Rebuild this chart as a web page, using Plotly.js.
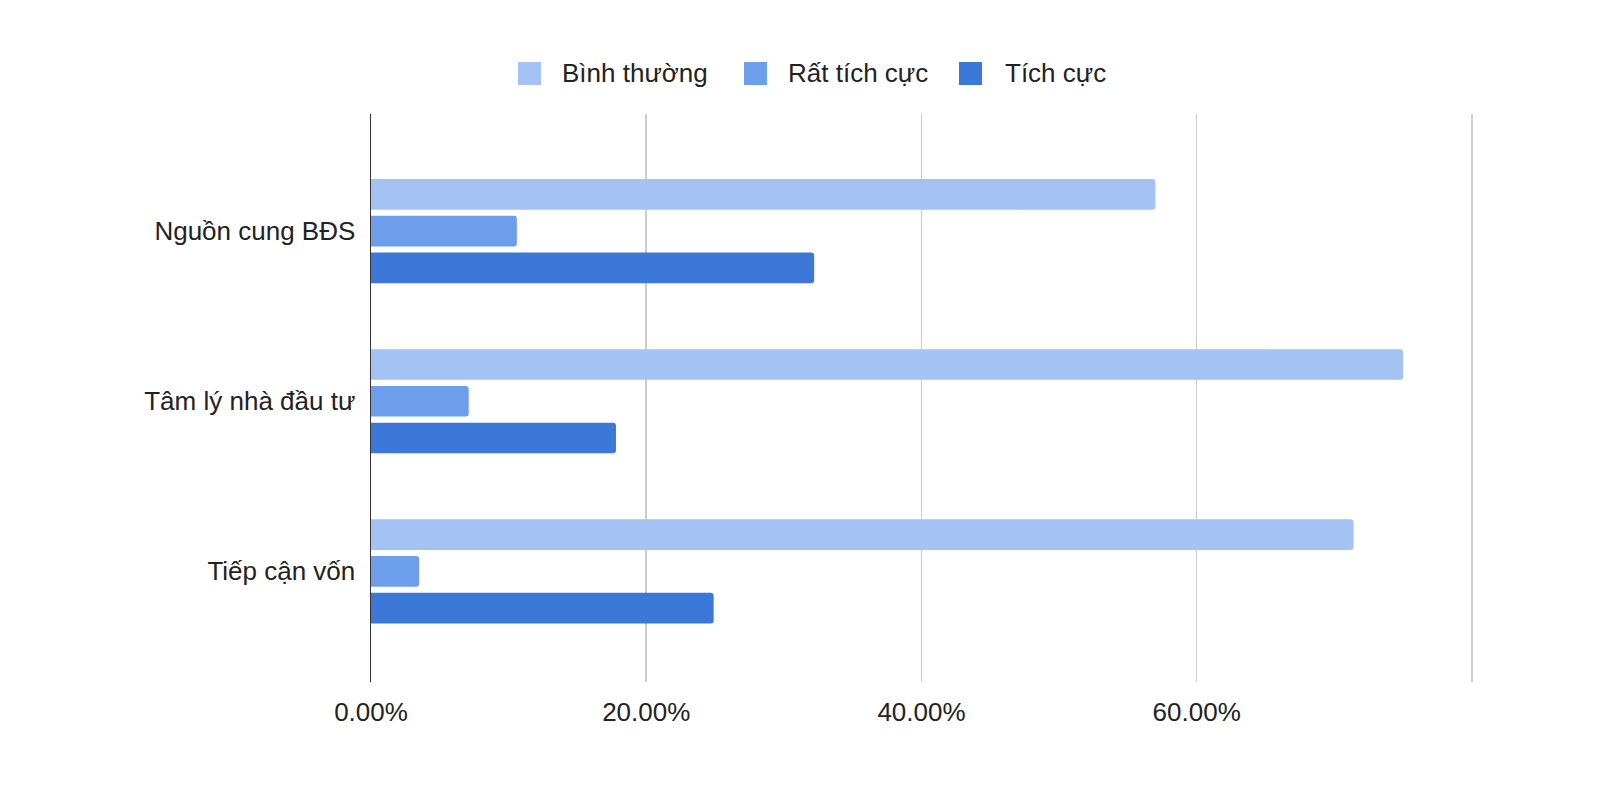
<!DOCTYPE html>
<html>
<head>
<meta charset="utf-8">
<script src="https://cdn.plot.ly/plotly-3.0.1.min.js"></script>
<style>html,body{margin:0;padding:0;background:#fff;}#chart{width:1600px;height:788px;}</style>
</head>
<body>
<div id="chart"></div>
<script>
const categories = ["Nguồn cung BĐS", "Tâm lý nhà đầu tư", "Tiếp cận vốn"];
const seriesNames = ["Bình thường", "Rất tích cực", "Tích cực"];
const binhThuong = [0.570, 0.750, 0.714];
const ratTichCuc = [0.106, 0.071, 0.035];
const tichCuc = [0.322, 0.178, 0.249];
const tickVals = [0, 0.2, 0.4, 0.6, 0.8];
const tickText = ["0.00%", "20.00%", "40.00%", "60.00%", ""];
const colors = ["#a4c2f4", "#6d9eeb", "#3c78d8"];

const W = 1600, H = 788;
const M = {l: 371, r: 126, t: 114, b: 106};
const plotW = W - M.l - M.r, plotH = H - M.t - M.b;
const FONT = "Liberation Sans, Arial, sans-serif";

const values = [binhThuong, ratTichCuc, tichCuc];
const traces = values.map((v, i) => ({
  type: "bar",
  orientation: "h",
  name: seriesNames[i],
  x: v,
  y: categories,
  marker: {color: colors[i], cornerradius: 3},
  showlegend: false,
  hoverinfo: "x+y+name"
}));

// custom legend (large square swatches like the reference)
const legSquares = [518, 744, 959];
const legTexts = [560, 786, 1003];
const pxX = px => (px - M.l) / plotW;
const pxY = py => 1 - (py - M.t) / plotH;
const shapes = [];
const annotations = [];
seriesNames.forEach((n, i) => {
  shapes.push({
    type: "rect", xref: "paper", yref: "paper",
    x0: pxX(legSquares[i]), x1: pxX(legSquares[i] + 23),
    y0: pxY(62), y1: pxY(85),
    fillcolor: colors[i], line: {width: 0}
  });
  annotations.push({
    xref: "paper", yref: "paper", x: pxX(legTexts[i]), y: pxY(73.5),
    xanchor: "left", yanchor: "middle", showarrow: false,
    text: n, font: {family: FONT, size: 26, color: "#222222"}
  });
});

const layout = {
  width: W, height: H,
  margin: M,
  paper_bgcolor: "#ffffff", plot_bgcolor: "#ffffff",
  barmode: "group",
  bargap: 0.352,
  bargroupgap: 0.166,
  font: {family: FONT, size: 26, color: "#222222"},
  xaxis: {
    range: [0, 0.8015],
    tickvals: tickVals, ticktext: tickText,
    showgrid: true, gridcolor: "#cccccc", gridwidth: 1.5,
    zeroline: false, showline: false,
    ticks: "", ticklabelstandoff: 12,
    tickfont: {family: FONT, size: 26, color: "#222222"}
  },
  yaxis: {
    type: "category",
    range: [2.65, -0.688],
    showgrid: false, zeroline: false,
    showline: true, linecolor: "#333333", linewidth: 1.5,
    ticks: "", ticklabelstandoff: 9,
    tickfont: {family: FONT, size: 26, color: "#222222"}
  },
  shapes: shapes,
  annotations: annotations
};

Plotly.newPlot("chart", traces, layout, {displayModeBar: false, staticPlot: true});
</script>
</body>
</html>
